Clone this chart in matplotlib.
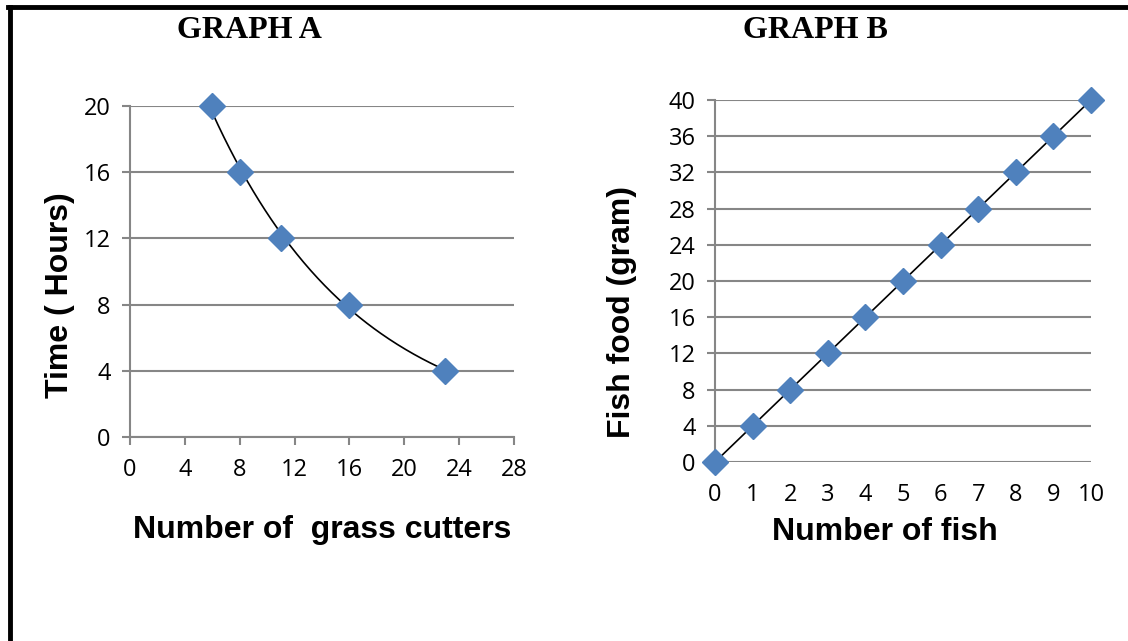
import numpy as np
import matplotlib.pyplot as plt
from matplotlib.lines import Line2D

# graph A data
cutters = [6, 8, 11, 16, 23]
hours = [20, 16, 12, 8, 4]
a_xticks = [0, 4, 8, 12, 16, 20, 24, 28]
a_yticks = [0, 4, 8, 12, 16, 20]

# graph B data
fish = [0, 1, 2, 3, 4, 5, 6, 7, 8, 9, 10]
food = [0, 4, 8, 12, 16, 20, 24, 28, 32, 36, 40]
b_xticks = list(range(0, 11))
b_yticks = list(range(0, 41, 4))

grid_col = '#868686'
mark_col = '#4F81BD'
tick_font = 'Open Sans'
W, H = 1128, 641

fig = plt.figure(figsize=(11.28, 6.41), dpi=100)

def style_axes(ax, xticks, yticks, xticks_show=True, xpad=10):
    ax.set_xticks(xticks)
    ax.set_yticks(yticks)
    ax.set_xlim(xticks[0], xticks[-1])
    ax.set_ylim(yticks[0], yticks[-1])
    ax.yaxis.grid(True, color=grid_col, linewidth=1.5)
    ax.set_axisbelow(True)
    for s in ['top', 'right']:
        ax.spines[s].set_visible(False)
    ax.spines['left'].set_color(grid_col)
    ax.spines['bottom'].set_color(grid_col)
    ax.spines['left'].set_linewidth(1.5)
    ax.spines['bottom'].set_linewidth(1.5)
    ax.tick_params(axis='y', length=6, width=1.5, color=grid_col, pad=8)
    ax.tick_params(axis='x', length=6 if xticks_show else 0, width=1.5,
                   color=grid_col, pad=xpad)
    for lab in ax.get_xticklabels() + ax.get_yticklabels():
        lab.set_fontfamily(tick_font)
        lab.set_fontsize(17)

# GRAPH A
ax1 = fig.add_axes([130/W, 1-437/H, 384/W, 331/H])
style_axes(ax1, a_xticks, a_yticks, xpad=9)
# exponential trendline (excel style)
k, loga = np.polyfit(cutters, np.log(hours), 1)
xs = np.linspace(min(cutters), max(cutters), 200)
ax1.plot(xs, np.exp(loga + k * xs), color='black', linewidth=1.2, zorder=2)
ax1.plot(cutters, hours, 'D', color=mark_col, markersize=13, zorder=3, clip_on=False)

# GRAPH B
ax2 = fig.add_axes([715/W, 1-462/H, 376/W, 362/H])
style_axes(ax2, b_xticks, b_yticks, xticks_show=False, xpad=15)
ax2.spines['bottom'].set_visible(False)
ax2.plot(fish, food, '-', color='black', linewidth=1.2, zorder=2, clip_on=False)
ax2.plot(fish, food, 'D', color=mark_col, markersize=13, zorder=3, linestyle='none', clip_on=False)

# titles and labels
fig.text(249/W, 1-38/H, 'GRAPH A', family='Liberation Serif', weight='bold',
         fontsize=23, ha='center', va='baseline')
fig.text(815/W, 1-38/H, 'GRAPH B', family='Liberation Serif', weight='bold',
         fontsize=23, ha='center', va='baseline')
fig.text(322/W, 1-538/H, 'Number of  grass cutters', family='Liberation Sans',
         weight='bold', fontsize=23, ha='center', va='baseline')
fig.text(885/W, 1-540/H, 'Number of fish', family='Liberation Sans',
         weight='bold', fontsize=23, ha='center', va='baseline')
fig.text(60/W, 1-295/H, 'Time ( Hours)', family='Liberation Sans', weight='bold',
         fontsize=23, ha='center', va='center', rotation=90)
fig.text(622/W, 1-312/H, 'Fish food (gram)', family='Liberation Sans', weight='bold',
         fontsize=23, ha='center', va='center', rotation=90)

# black frame at top and left
fig.add_artist(Line2D([8/W, 1], [1-7/H, 1-7/H], color='black', linewidth=3.5,
                      transform=fig.transFigure))
fig.add_artist(Line2D([10/W, 10/W], [0, 1-7/H], color='black', linewidth=3.5,
                      transform=fig.transFigure))

fig.savefig('out.png', dpi=100)
